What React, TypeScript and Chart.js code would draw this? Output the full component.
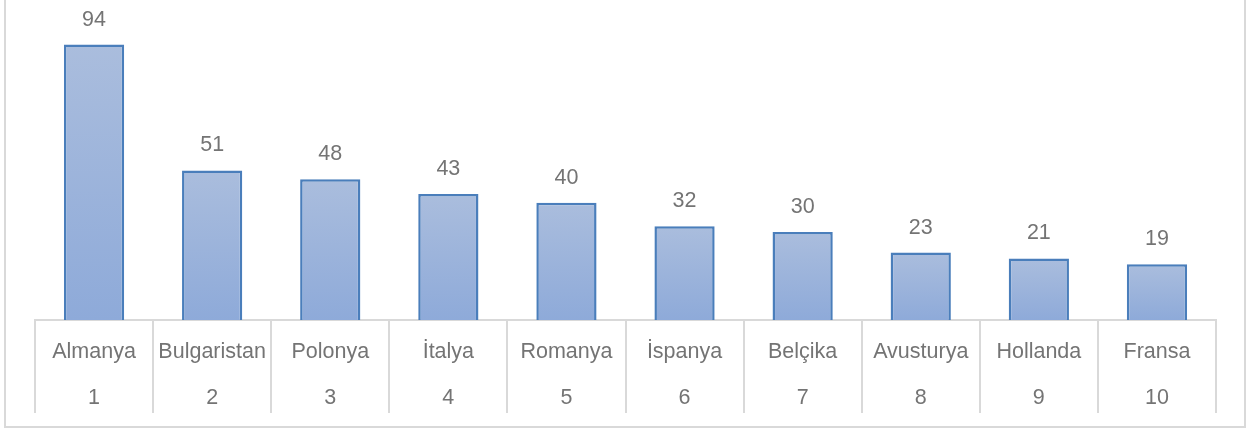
import React, { useEffect, useRef } from "react";
import { Chart, registerables } from "chart.js";

Chart.register(...registerables);

const countries = ["Almanya", "Bulgaristan", "Polonya", "İtalya", "Romanya", "İspanya", "Belçika", "Avusturya", "Hollanda", "Fransa"];
const ranks = ["1", "2", "3", "4", "5", "6", "7", "8", "9", "10"];
const values = [94, 51, 48, 43, 40, 32, 30, 23, 21, 19];

const FONT = "'Liberation Sans', Arial, sans-serif";
const TEXT = "#747474";
const GRID = "#d9d9d9";

const valueLabels = {
  id: "valueLabels",
  afterDatasetsDraw(chart: any) {
    const ctx = chart.ctx;
    const meta = chart.getDatasetMeta(0);
    ctx.save();
    ctx.font = `21.5px ${FONT}`;
    ctx.fillStyle = TEXT;
    ctx.textAlign = "center";
    ctx.textBaseline = "middle";
    meta.data.forEach((bar: any, i: number) => {
      ctx.fillText(String(values[i]), bar.x, bar.y - 25);
    });
    ctx.restore();
  },
};

export default function App() {
  const ref = useRef<HTMLCanvasElement | null>(null);
  useEffect(() => {
    if (!ref.current) return;
    const chart = new Chart(ref.current, {
      type: "bar",
      data: {
        labels: countries.map((c, i) => [c, ranks[i]]),
        datasets: [
          {
            data: values,
            backgroundColor: (context: any) => {
              const ch = context.chart;
              const area = ch.chartArea;
              if (!area || context.raw === undefined) return "#9db4dc";
              const top = ch.scales.y.getPixelForValue(context.raw);
              const g = ch.ctx.createLinearGradient(0, top, 0, area.bottom);
              g.addColorStop(0, "#aabddd");
              g.addColorStop(1, "#8eaad9");
              return g;
            },
            borderColor: "#4a7ebb",
            borderWidth: 2.5,
            barPercentage: 0.51,
            categoryPercentage: 1,
          },
        ],
      },
      options: {
        responsive: false,
        animation: false,
        devicePixelRatio: 1,
        layout: { padding: { left: 35, right: 32, top: 27, bottom: 0 } },
        plugins: { legend: { display: false }, tooltip: { enabled: false } },
        scales: {
          y: { display: false, min: 0, max: 100 },
          x: {
            offset: true,
            grid: {
              offset: true,
              drawOnChartArea: false,
              drawTicks: true,
              tickLength: 93,
              color: GRID,
              lineWidth: 2,
            },
            border: { display: true, color: GRID, width: 2 },
            ticks: {
              padding: -84,
              color: TEXT,
              maxRotation: 0,
              autoSkip: false,
              font: { family: FONT, size: 21.5, lineHeight: "46px" },
            },
            afterFit: (scale: any) => {
              scale.height = 109;
            },
          },
        },
      },
      plugins: [valueLabels],
    });
    return () => chart.destroy();
  }, []);

  return (
    <div style={{ position: "fixed", left: 0, top: 0, width: 1248, height: 429, background: "#fff", overflow: "hidden" }}>
      <canvas ref={ref} width={1248} height={429} style={{ position: "absolute", left: 0, top: 0 }} />
      <div
        style={{
          position: "absolute",
          left: 4,
          top: -4,
          width: 1242,
          height: 432,
          boxSizing: "border-box",
          border: "2px solid #d9d9d9",
          pointerEvents: "none",
        }}
      />
    </div>
  );
}
